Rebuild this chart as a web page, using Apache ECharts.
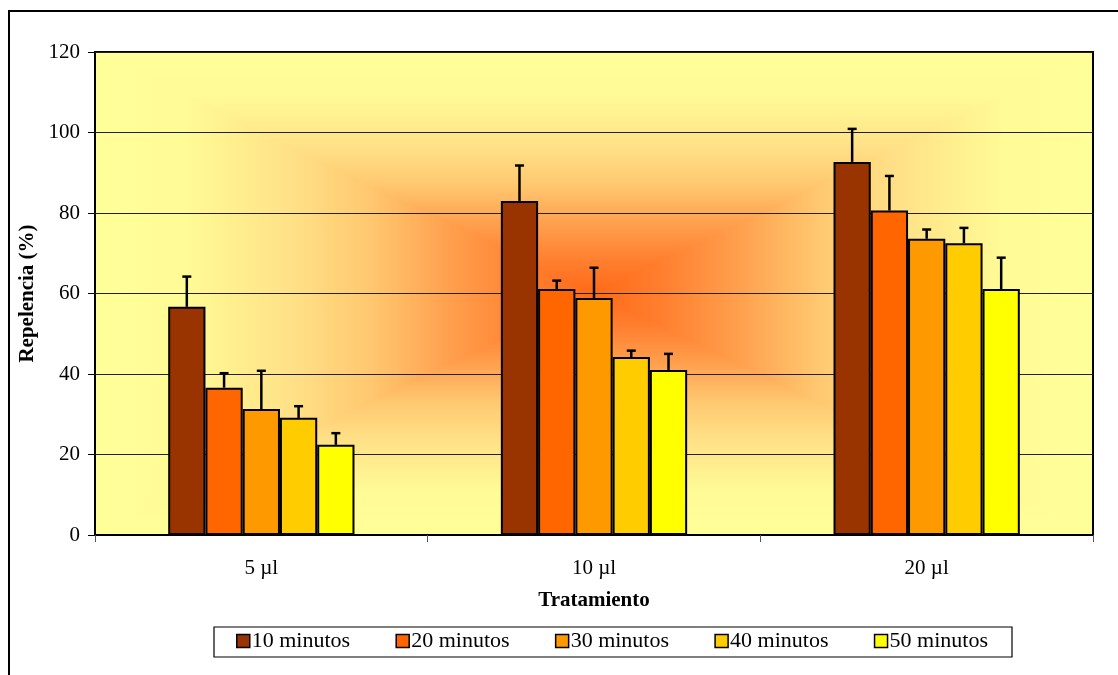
<!DOCTYPE html>
<html>
<head>
<meta charset="utf-8">
<script src="https://cdn.jsdelivr.net/npm/echarts@6/dist/echarts.min.js"></script>
<style>
  html, body { margin: 0; padding: 0; background: #fff; }
  #chart { width: 1118px; height: 675px; }
</style>
</head>
<body>
<div id="chart"></div>
<script>
  // data
  var categories = ['5 µl', '10 µl', '20 µl'];
  var seriesNames = ['10 minutos', '20 minutos', '30 minutos', '40 minutos', '50 minutos'];
  var colors = ['#993300', '#ff6600', '#ff9900', '#ffcc00', '#ffff00'];

  var mean10 = [56.7, 83.0, 92.7];
  var mean20 = [36.6, 61.1, 80.6];
  var mean30 = [31.3, 58.9, 73.6];
  var mean40 = [29.1, 44.2, 72.5];
  var mean50 = [22.4, 41.0, 61.1];

  var sd10 = [7.5, 8.8, 8.2];
  var sd20 = [3.6, 2.1, 8.6];
  var sd30 = [9.5, 7.5, 2.3];
  var sd40 = [2.9, 1.6, 3.8];
  var sd50 = [2.9, 4.0, 7.8];

  var means = [mean10, mean20, mean30, mean40, mean50];
  var sds = [sd10, sd20, sd30, sd40, sd50];

  var font = 'Liberation Serif';
  var catGap = 0.44;

  // plot rectangle (pixels)
  var L = 95, T = 52, R = 1093, B = 535;
  var cx = (L + R) / 2, cy = (T + B) / 2;

  // rectangular "from centre" fill, edge -> centre
  function grad(x, y, x2, y2) {
    return new echarts.graphic.LinearGradient(x, y, x2, y2, [
      { offset: 0, color: '#ffff99' },
      { offset: 0.18, color: '#fffb96' },
      { offset: 0.4, color: '#ffe086' },
      { offset: 0.55, color: '#ffc870' },
      { offset: 0.7, color: '#ffa250' },
      { offset: 0.87, color: '#ff7e2e' },
      { offset: 1, color: '#ff6a18' }
    ], true);
  }

  function tri(points, fill) {
    return { type: 'polygon', z: -1, silent: true, shape: { points: points }, style: { fill: fill } };
  }

  function makeErr(k) {
    return {
      type: 'custom',
      name: 'err' + k,
      z: 5,
      silent: true,
      data: means[k].map(function (m, j) { return [j, m, m + sds[k][j]]; }),
      encode: { x: 0, y: 2 },
      renderItem: function (params, api) {
        var idx = api.value(0);
        var base = api.coord([idx, api.value(1)]);
        var top = api.coord([idx, api.value(2)]);
        var band = api.size([1, 0])[0];
        var barW = band * (1 - catGap) / 5;
        var x = base[0] + (k - 2) * barW;
        var st = { stroke: '#000', lineWidth: 2.5 };
        return {
          type: 'group',
          children: [
            { type: 'line', shape: { x1: x, y1: base[1], x2: x, y2: top[1] }, style: st },
            { type: 'line', shape: { x1: x - 4.5, y1: top[1], x2: x + 4.5, y2: top[1] }, style: st }
          ]
        };
      }
    };
  }

  var barSeries = seriesNames.map(function (n, k) {
    return {
      type: 'bar',
      name: n,
      data: means[k],
      barGap: '0%',
      barCategoryGap: (catGap * 100) + '%',
      itemStyle: { color: colors[k], borderColor: '#000', borderWidth: 2 }
    };
  });

  var errSeries = [0, 1, 2, 3, 4].map(makeErr);

  var chart = echarts.init(document.getElementById('chart'));
  chart.setOption({
    animation: false,
    textStyle: { fontFamily: font },
    graphic: [
      { type: 'rect', z: -2, silent: true, shape: { x: L, y: T, width: cx - L, height: B - T }, style: { fill: grad(L, 0, cx, 0) } },
      { type: 'rect', z: -2, silent: true, shape: { x: cx, y: T, width: R - cx, height: B - T }, style: { fill: grad(R, 0, cx, 0) } },
      tri([[L, T], [R, T], [cx, cy]], grad(0, T, 0, cy)),
      tri([[L, B], [R, B], [cx, cy]], grad(0, B, 0, cy)),
      { type: 'rect', z: 10, silent: true, shape: { x: 9, y: 11, width: 1300, height: 900 }, style: { fill: 'none', stroke: '#000', lineWidth: 2 } },
      { type: 'rect', z: 10, silent: true, shape: { x: 214, y: 627, width: 798, height: 30 }, style: { fill: 'none', stroke: '#000', lineWidth: 1.2 } }
    ],
    grid: {
      left: L, top: T, right: 1118 - R, bottom: 675 - B,
      show: true, borderColor: '#000', borderWidth: 2, backgroundColor: 'transparent'
    },
    legend: {
      data: seriesNames,
      left: 236,
      top: 630,
      padding: 0,
      itemWidth: 13,
      itemHeight: 13,
      itemGap: 45.3,
      icon: 'rect',
      itemStyle: { borderColor: '#000', borderWidth: 1.5 },
      textStyle: { fontFamily: font, fontSize: 22, color: '#000', padding: [0, 0, 0, -3] }
    },
    xAxis: {
      type: 'category',
      data: categories,
      name: 'Tratamiento',
      nameLocation: 'middle',
      nameGap: 55,
      nameTextStyle: { fontFamily: font, fontSize: 21, fontWeight: 'bold', color: '#000' },
      axisLine: { show: true, lineStyle: { color: '#000', width: 2 } },
      axisTick: { show: true, length: 7, lineStyle: { color: '#555' } },
      axisLabel: { fontFamily: font, fontSize: 21, color: '#000', margin: 23 }
    },
    yAxis: {
      type: 'value',
      min: 0,
      max: 120,
      interval: 20,
      name: 'Repelencia (%)',
      nameLocation: 'middle',
      nameGap: 46,
      nameTextStyle: { fontFamily: font, fontSize: 21, fontWeight: 'bold', color: '#000' },
      axisLine: { show: false },
      axisTick: { show: true, length: 7, lineStyle: { color: '#000' } },
      axisLabel: { fontFamily: font, fontSize: 21, color: '#000', margin: 15 },
      splitLine: { show: true, lineStyle: { color: '#222', width: 1 } }
    },
    series: barSeries.concat(errSeries)
  });
</script>
</body>
</html>
